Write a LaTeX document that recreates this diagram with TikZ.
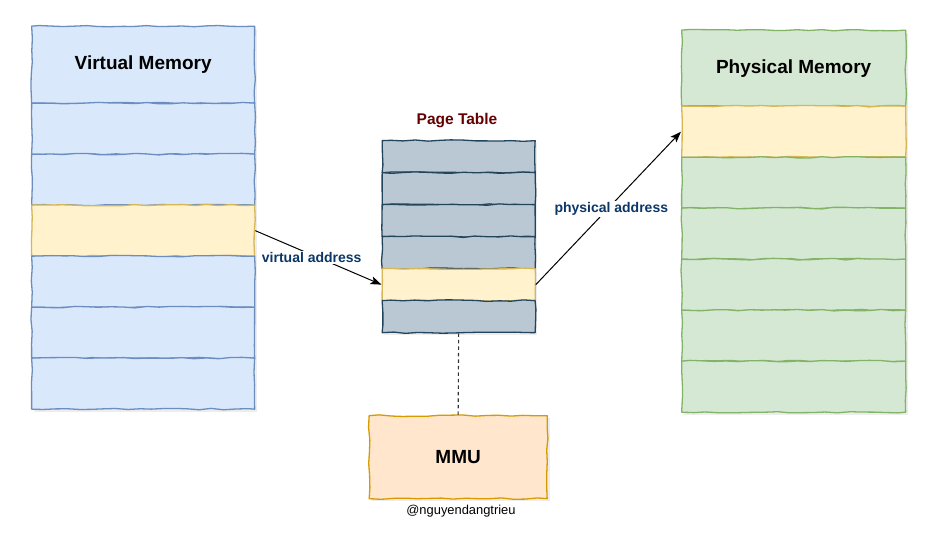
\documentclass[tikz,border=0pt]{standalone}
\usepackage{fontspec}
\setmainfont{Liberation Sans}
\usetikzlibrary{arrows.meta,decorations.pathmorphing}

\definecolor{vmFill}{HTML}{DAE8FC}
\definecolor{vmLine}{HTML}{6C8EBF}
\definecolor{hlFill}{HTML}{FFF2CC}
\definecolor{hlLine}{HTML}{D6B656}
\definecolor{ptFill}{HTML}{BAC8D3}
\definecolor{ptLine}{HTML}{23445D}
\definecolor{pmFill}{HTML}{D5E8D4}
\definecolor{pmLine}{HTML}{82B366}
\definecolor{mmuFill}{HTML}{FFE6CC}
\definecolor{mmuLine}{HTML}{D79B00}
\definecolor{addrText}{HTML}{0B3768}
\definecolor{titleRed}{HTML}{660000}

\tikzset{
  sketch/.style={decorate, decoration={random steps, segment length=12pt, amplitude=0.8pt},
                 line width=1.3pt, line join=round},
  cell/.style={sketch, rectangle, inner sep=0pt, anchor=north west},
  vmcell/.style={cell, fill=vmFill, draw=vmLine, minimum width=223pt},
  pmcell/.style={cell, fill=pmFill, draw=pmLine, minimum width=224pt},
  ptcell/.style={cell, fill=ptFill, draw=ptLine, minimum width=153pt, minimum height=32pt},
  hlcell/.style={fill=hlFill, draw=hlLine},
  title/.style={font=\bfseries\fontsize{19}{22}\selectfont, text=black},
  addr/.style={font=\bfseries\fontsize{14}{17}\selectfont, text=addrText, fill=white, inner sep=1.5pt},
  link/.style={draw=black, line width=1pt, -{Stealth[length=11pt, width=8pt, inset=2.5pt]}},
  shade/.style={fill=black, opacity=0.07},
}

\begin{document}
\pgfmathsetseed{11}
\begin{tikzpicture}[x=1pt, y=-1pt]
\useasboundingbox[fill=white] (0,0) rectangle (939,536);

% soft shadows behind the blocks
\fill[shade] (34,29) rectangle (257,412);
\fill[shade] (384,143) rectangle (537,335);
\fill[shade] (684,33) rectangle (908,415);
\fill[shade] (371,418) rectangle (550,501);

% virtual memory column
\node[vmcell, minimum height=77pt]            (vm0) at (31,25.5)  {};
\node[title] at (vm0.center) {Virtual Memory};
\node[vmcell, minimum height=51pt]            (vm1) at (31,102.5) {};
\node[vmcell, minimum height=51pt]            (vm2) at (31,153.5) {};
\node[vmcell, hlcell, minimum height=51pt]    (vm3) at (31,204.5) {};
\node[vmcell, minimum height=51pt]            (vm4) at (31,255.5) {};
\node[vmcell, minimum height=51pt]            (vm5) at (31,306.5) {};
\node[vmcell, minimum height=51pt]            (vm6) at (31,357.5) {};

% page table
\node[font=\bfseries\fontsize{15.5}{18}\selectfont, text=titleRed] (ptTitle) at (457,121) {Page Table};
\node[ptcell]         (pt0) at (381.5,140) {};
\node[ptcell]         (pt1) at (381.5,172) {};
\node[ptcell]         (pt2) at (381.5,204) {};
\node[ptcell]         (pt3) at (381.5,236) {};
\node[ptcell, hlcell] (pt4) at (381.5,268) {};
\node[ptcell]         (pt5) at (381.5,300) {};

% physical memory column
\node[pmcell, minimum height=76pt]            (pm0) at (681,29.5)  {};
\node[title] at (pm0.center) {Physical Memory};
\node[pmcell, hlcell, minimum height=51pt]    (pm1) at (681,105.5) {};
\node[pmcell, minimum height=51pt]            (pm2) at (681,156.5) {};
\node[pmcell, minimum height=51pt]            (pm3) at (681,207.5) {};
\node[pmcell, minimum height=51pt]            (pm4) at (681,258.5) {};
\node[pmcell, minimum height=51pt]            (pm5) at (681,309.5) {};
\node[pmcell, minimum height=51pt]            (pm6) at (681,360.5) {};

% MMU
\node[cell, fill=mmuFill, draw=mmuLine, minimum width=178pt, minimum height=83pt] (mmu) at (368.5,415) {};
\node[title] at (mmu.center) {MMU};
\node[font=\fontsize{12.9}{15}\selectfont, text=black] (credit) at (461,511) {@nguyendangtrieu};

% connectors
\draw[link] (vm3.east) -- node[addr, pos=0.447, yshift=-3pt] {virtual address} (pt4.west);
\draw[link] (pt4.east) -- node[addr, pos=0.52, yshift=-4pt] {physical address} (pm1.west);
\draw[draw=black!80, line width=1.1pt, dash pattern=on 3.5pt off 3pt] (pt5.south) -- (mmu.north);

\end{tikzpicture}
\end{document}
